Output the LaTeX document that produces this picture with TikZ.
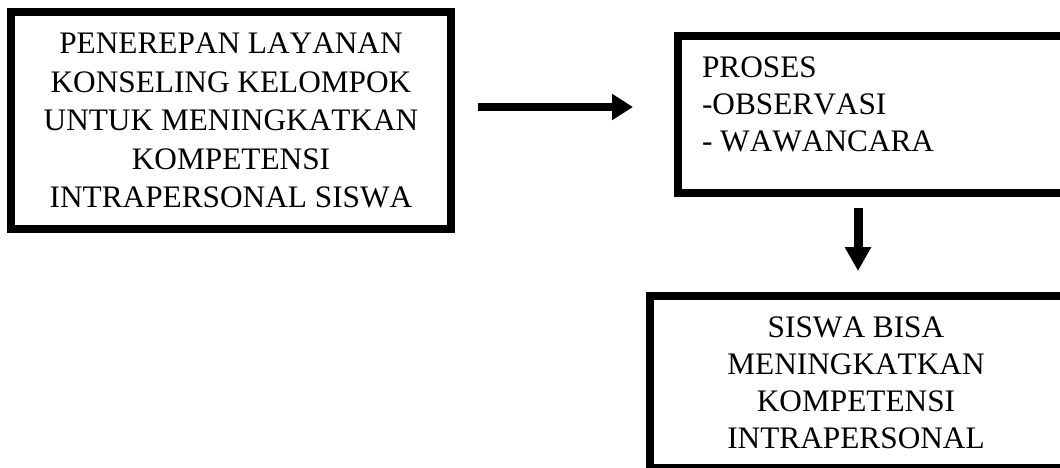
\documentclass[tikz,border=0pt]{standalone}
\usepackage{fontspec}
\setmainfont[Kerning=Off]{Liberation Serif}
\usetikzlibrary{arrows.meta}
\tikzset{
  box/.style={draw=black, line width=8pt, outer sep=0pt, inner sep=0pt, rectangle},
  txt/.style={inner sep=0pt, outer sep=0pt, font=\fontsize{31.3}{38.5}\selectfont},
  arr/.style={-{Triangle[length=21pt,width=25pt]}, line width=8pt},
}
\begin{document}
\begin{tikzpicture}[x=1pt,y=1pt]
\useasboundingbox (0,0) rectangle (1060,-468);
\fill[white] (0,0) rectangle (1060,-468);
% left box
\node[box, minimum width=440pt, minimum height=217pt] (left) at (231,-120.5) {};
\node[txt, align=center] (lefttext) at (left.center) {PENEREPAN LAYANAN\\KONSELING KELOMPOK\\UNTUK MENINGKATKAN\\KOMPETENSI\\INTRAPERSONAL SISWA};
% process box
\node[box, minimum width=400pt, minimum height=157pt] (proc) at (878,-114.5) {};
\node[txt, align=left, anchor=north west, font=\fontsize{31.3}{37}\selectfont] (proctext) at ([xshift=24pt,yshift=-21pt]proc.north west) {PROSES\\-OBSERVASI\\- WAWANCARA};
% result box
\node[box, minimum width=430pt, minimum height=172pt] (res) at (865,-382) {};
\node[txt, align=center, font=\fontsize{31.3}{37}\selectfont] (restext) at (856,-382.5) {SISWA BISA\\MENINGKATKAN\\KOMPETENSI\\INTRAPERSONAL};
% arrows
\draw[arr] ([xshift=27pt,yshift=13.5pt]left.east) -- ([xshift=-45pt,yshift=7.5pt]proc.west);
\draw[arr, line width=9pt, -{Triangle[length=24pt,width=25pt]}] ([xshift=-20pt,yshift=-15pt]proc.south) -- ([xshift=-7pt,yshift=25pt]res.north);
\end{tikzpicture}
\end{document}
